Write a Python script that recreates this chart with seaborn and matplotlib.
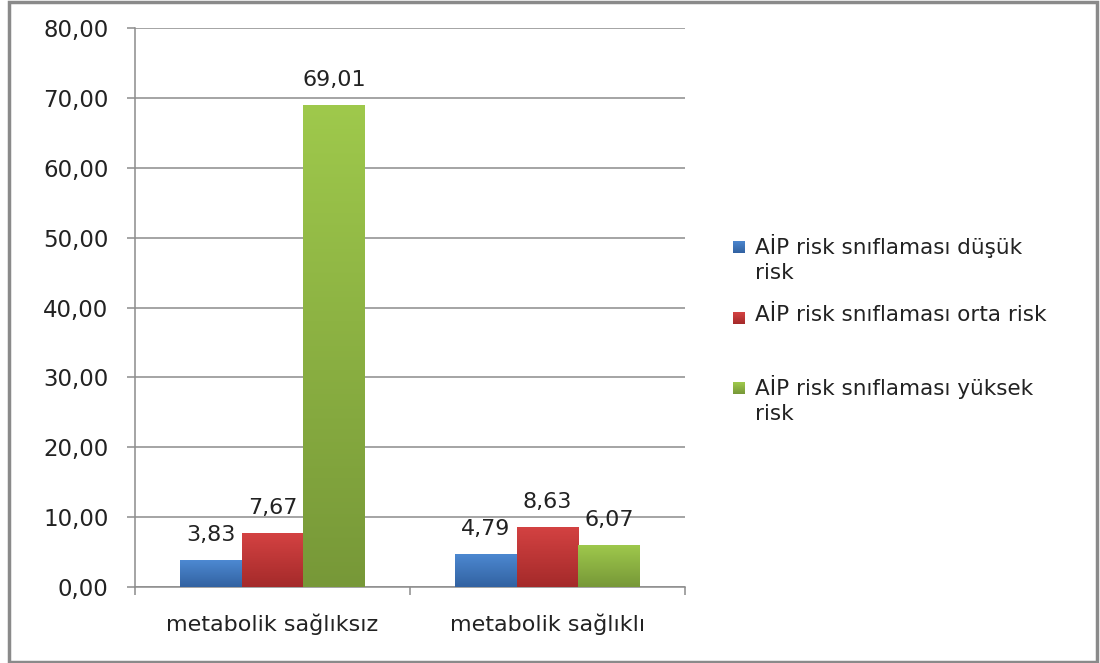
import numpy as np
import pandas as pd
import matplotlib
matplotlib.use("Agg")
import matplotlib.pyplot as plt
import seaborn as sns
from matplotlib.patches import Rectangle
from matplotlib.colors import LinearSegmentedColormap

# Data
groups = ["metabolik sağlıksız", "metabolik sağlıklı"]
series = ["AİP risk snıflaması düşük risk",
          "AİP risk snıflaması orta risk",
          "AİP risk snıflaması yüksek risk"]
legend_labels = ["AİP risk snıflaması düşük\nrisk",
                 "AİP risk snıflaması orta risk",
                 "AİP risk snıflaması yüksek\nrisk"]
low_risk = [3.83, 4.79]
mid_risk = [7.67, 8.63]
high_risk = [69.01, 6.07]
y_ticks = [0, 10, 20, 30, 40, 50, 60, 70, 80]

df = pd.DataFrame({
    "group": groups * 3,
    "series": [series[0]] * 2 + [series[1]] * 2 + [series[2]] * 2,
    "value": low_risk + mid_risk + high_risk,
})

# top / bottom colours of the gradient fills
grad = [("#4d89d2", "#3262a1"),
        ("#d44242", "#a42a2a"),
        ("#9fc94c", "#779838")]
mid_cols = ["#3f75ba", "#bf3636", "#8bb241"]

sns.set_theme(style="white")
plt.rcParams["font.family"] = ["DejaVu Sans"]

W, H = 1100, 663
fig = plt.figure(figsize=(W / 100, H / 100), dpi=100)
L, R, T, B = 135, 685, 28, 587
ax = fig.add_axes([L / W, 1 - B / H, (R - L) / W, (B - T) / H])

sns.barplot(data=df, x="group", y="value", hue="series", hue_order=series,
            order=groups, palette=mid_cols, width=0.67, saturation=1,
            ax=ax, legend=False, edgecolor="none", linewidth=0)

ax.set_xlim(-0.5, 1.5)
ax.set_ylim(0, 80)

# gradient fills clipped to each bar
for i, cont in enumerate(ax.containers):
    cmap = LinearSegmentedColormap.from_list(f"g{i}", [grad[i][1], grad[i][0]])
    for bar in cont:
        x0, y0 = bar.get_x(), bar.get_y()
        w, h = bar.get_width(), bar.get_height()
        img = ax.imshow(np.linspace(0, 1, 256).reshape(-1, 1), cmap=cmap,
                        extent=[x0, x0 + w, y0, y0 + h], origin="lower",
                        aspect="auto", zorder=3)
        img.set_clip_path(bar)
    for bar, v in zip(cont, cont.datavalues):
        ax.annotate(f"{v:.2f}".replace(".", ","),
                    (bar.get_x() + bar.get_width() / 2, bar.get_height()),
                    xytext=(0, 18), textcoords="offset points",
                    ha="center", va="center", fontsize=16, color="#222222",
                    zorder=5)
ax.set_xlim(-0.5, 1.5)
ax.set_ylim(0, 80)

# axes styling
grid_c = "#8c8c8c"
ax.set_yticks(y_ticks)
ax.set_yticklabels([f"{t:.2f}".replace(".", ",") for t in y_ticks],
                   fontsize=16.5, color="#222222")
ax.yaxis.grid(True, color=grid_c, linewidth=1.1)
ax.set_axisbelow(True)
ax.tick_params(axis="y", left=True, length=6, width=1.1, color=grid_c, pad=13)

ax.set_xticks([-0.5, 0.5, 1.5])
ax.set_xticklabels(["", "", ""])
ax.set_xticks([0, 1], minor=True)
ax.set_xticklabels(groups, minor=True, fontsize=16, color="#222222")
ax.tick_params(axis="x", which="major", bottom=True, length=6, width=1.1,
               color=grid_c)
ax.tick_params(axis="x", which="minor", bottom=True, length=0, pad=19)
ax.set_xlabel("")
ax.set_ylabel("")
for s in ["top", "right"]:
    ax.spines[s].set_visible(False)
for s in ["left", "bottom"]:
    ax.spines[s].set_color(grid_c)
    ax.spines[s].set_linewidth(1.1)

# legend at the right
leg_y = [247, 318, 388]
for lab, (top, bot), y in zip(legend_labels, grad, leg_y):
    cmap = LinearSegmentedColormap.from_list("lg", [bot, top])
    lax = fig.add_axes([733 / W, 1 - (y + 6) / H, 12 / W, 12 / H])
    lax.imshow(np.linspace(0, 1, 32).reshape(-1, 1), cmap=cmap,
               origin="lower", aspect="auto")
    lax.axis("off")
    fig.text(755 / W, 1 - (y - 13) / H, lab, ha="left", va="top",
             fontsize=15.5, color="#222222", linespacing=1.3)

# outer frame
fig.patches.append(Rectangle((9 / W, 1.5 / H), (1097 - 9) / W, (661 - 1.5) / H,
                             transform=fig.transFigure, fill=False,
                             edgecolor="#8a8a8a", linewidth=2.5))

fig.savefig("out.png", dpi=100)
